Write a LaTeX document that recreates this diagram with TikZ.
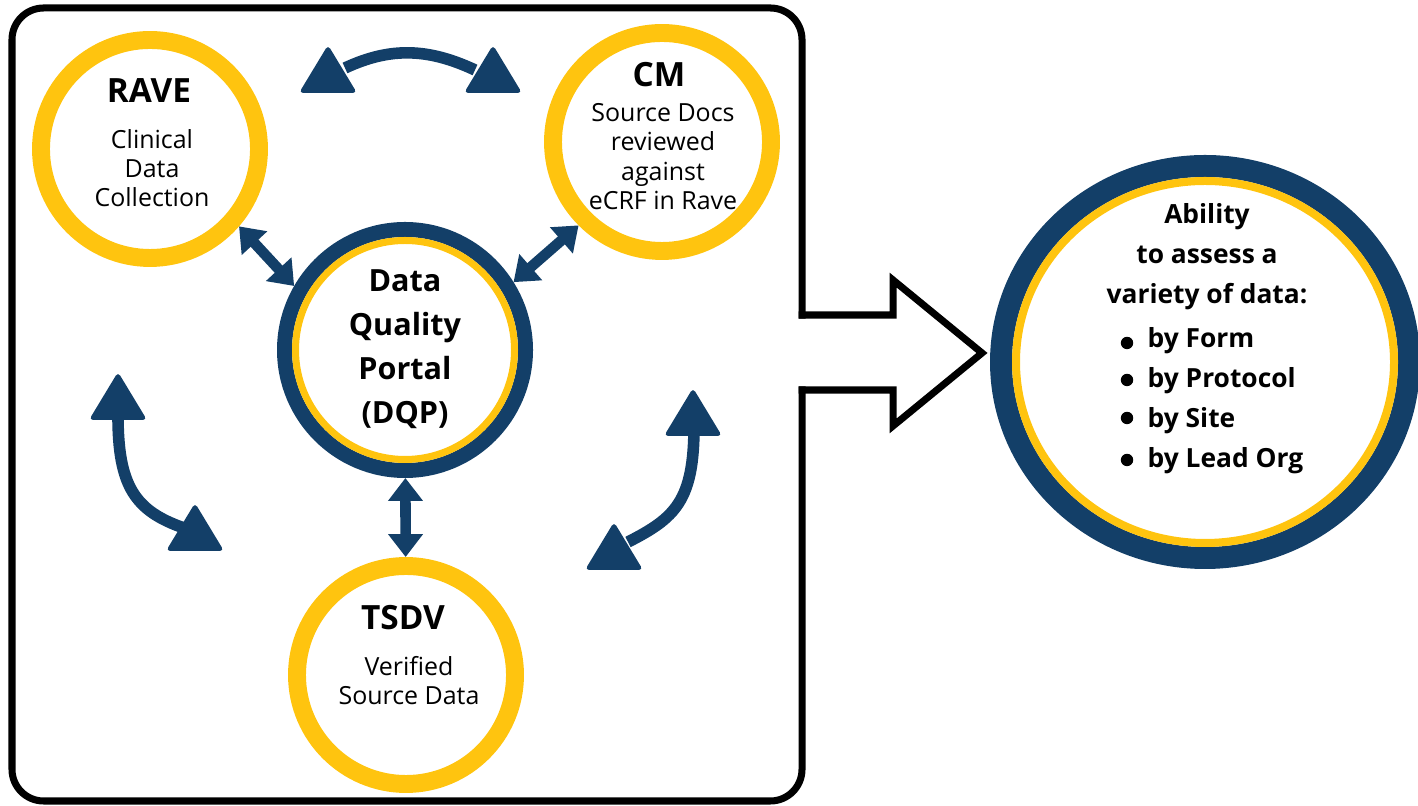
\documentclass[tikz,border=0pt]{standalone}
\usepackage{fontspec}
\setmainfont{Open Sans}
\usetikzlibrary{arrows.meta,shapes.geometric}

\definecolor{navy}{RGB}{19,63,104}
\definecolor{gold}{RGB}{255,196,15}

% upward head of the curved arrows, tip at (#1,#2)
\newcommand{\headup}[2]{\fill[navy,rounded corners=1.2pt] (#1,#2) -- ++(-0.29,-0.48) -- ++(0.58,0) -- cycle;}

\begin{document}
\begin{tikzpicture}[
  smallring/.style={circle, draw=gold, line width=5.1pt, minimum size=2.18cm, inner sep=0pt},
  title/.style={anchor=base, inner sep=0pt, font=\fontsize{9.5}{11}\selectfont\bfseries},
  body/.style={anchor=north, inner sep=0pt, align=center, font=\fontsize{7.1}{8.3}\selectfont},
  dbl/.style={navy, line width=3pt, {Triangle[length=6.5pt,width=9.5pt]}-{Triangle[length=6.5pt,width=9.5pt]}},
  curvy/.style={navy, line width=3.3pt}
]
  \useasboundingbox (0,0) rectangle (14.18,8.06);

  % frame with the gap for the big arrow
  \draw[line width=2pt, line cap=rect, rounded corners=9pt]
    (8.02,4.91) -- (8.02,7.98) -- (0.12,7.98) -- (0.12,0.05) -- (8.02,0.05) -- (8.02,4.16);
  \draw[line width=2pt, line cap=rect, line join=miter]
    (8.02,4.16) -- (8.93,4.16) -- (8.93,3.80) -- (9.82,4.53) -- (8.93,5.26) -- (8.93,4.91) -- (8.02,4.91);

  % the three outer circles
  \node[smallring] (rave) at (1.50,6.57) {};
  \node[smallring] (cm) at (6.62,6.64) {};
  \node[smallring] (tsdv) at (4.06,1.31) {};

  \node[title] (rave-t) at (1.49,7.03) {RAVE};
  \node[body] (rave-b) at (1.52,6.77) {Clinical\\Data\\Collection};

  \node[title] (cm-t) at (6.59,7.19) {CM};
  \node[body] (cm-b) at (6.63,7.03) {Source Docs\\reviewed\\against\\eCRF in Rave};

  \node[title] (tsdv-t) at (4.03,1.76) {TSDV};
  \node[body] (tsdv-b) at (4.09,1.50) {Verified\\Source Data};

  % portal in the middle
  \node[circle, draw=navy, line width=0.15cm, minimum size=2.41cm, inner sep=0pt] (dqp) at (4.05,4.56) {};
  \draw[gold, line width=0.07cm] (dqp.center) circle (1.095);
  \node[anchor=north, inner sep=0pt, align=center, font=\fontsize{8.7}{12.5}\selectfont\bfseries] (dqp-t) at (4.05,5.37)
    {Data\\Quality\\Portal\\(DQP)};

  % links to the portal
  \draw[dbl] (rave.-41) -- (dqp.150);
  \draw[dbl] (cm.-135) -- (dqp.32);
  \draw[dbl] (dqp) -- (tsdv);

  % curved arrows round the portal
  \draw[curvy] (3.45,7.38) to[out=25,in=155] (4.75,7.36);
  \headup{3.28}{7.61}
  \headup{4.93}{7.61}

  \draw[curvy] (1.18,3.90) .. controls (1.18,3.20) and (1.35,2.95) .. (1.84,2.78);
  \headup{1.18}{4.34}
  \headup{1.95}{3.03}

  \draw[curvy] (6.94,3.80) .. controls (6.94,3.05) and (6.75,2.88) .. (6.28,2.64);
  \headup{6.93}{4.18}
  \headup{6.14}{2.84}

  % result circle
  \node[ellipse, draw=navy, line width=0.22cm, minimum width=4.08cm, minimum height=3.92cm, inner sep=0pt] (ability) at (12.05,4.44) {};
  \draw[gold, line width=0.08cm] (ability.center) ellipse [x radius=1.89, y radius=1.81];
  \node[anchor=north, inner sep=0pt, align=center, font=\fontsize{7.5}{11.4}\selectfont\bfseries] (ability-t) at (12.07,6.03)
    {Ability\\to assess a\\variety of data:};
  \node[anchor=north west, inner sep=0pt, align=left, font=\fontsize{7.5}{11.4}\selectfont\bfseries] (ability-l) at (11.47,4.79)
    {by Form\\by Protocol\\by Site\\by Lead Org};
  \foreach \y in {4.63,4.26,3.88,3.46}
    \fill (11.27,\y) circle (0.062);

\end{tikzpicture}
\end{document}
